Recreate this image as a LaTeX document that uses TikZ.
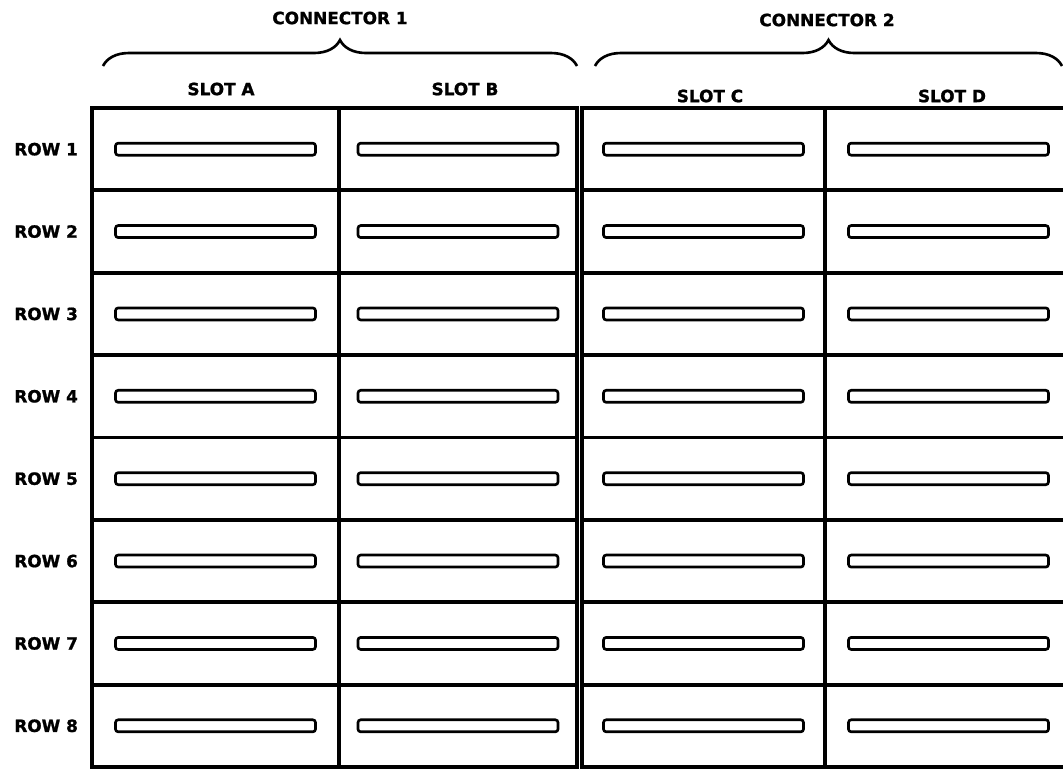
\documentclass[tikz,border=0pt]{standalone}
\usepackage{fontspec}
\setmainfont{DejaVu Sans}[BoldFeatures={FakeBold=1.2}]
\usetikzlibrary{positioning}
\usetikzlibrary{decorations.pathreplacing}
\tikzset{
  celda/.style={
    rectangle, draw=black, line width=2.2pt, inner sep=0pt,
    minimum height=1.6475cm
  },
  ranura/.style={
    rectangle, rounded corners=1.5pt, draw=black, line width=1.5pt,
    minimum width=4.0cm, minimum height=0.24cm, inner sep=0pt
  },
  etiqueta/.style={font=\bfseries\fontsize{9.6}{11}\selectfont, inner sep=1pt},
  llave/.style={decorate, decoration={brace, amplitude=0.52cm}, line width=1.5pt}
}

\begin{document}
\begin{tikzpicture}[x=0.02cm, y=-0.02cm]
  \useasboundingbox (0,0) rectangle (1063,769);

  \foreach \r in {1,...,8} {
    \node[celda, minimum width=4.94cm] (a\r) at (215.5, 66.8+82.375*\r) {};
    \node[celda, minimum width=4.76cm] (b\r) at (458, 66.8+82.375*\r) {};
    \node[celda, minimum width=4.86cm] (c\r) at (703.5, 66.8+82.375*\r) {};
    \node[celda, minimum width=4.94cm] (d\r) at (948.5, 66.8+82.375*\r) {};
    \node[ranura] (ra\r) at (a\r) {};
    \node[ranura] (rb\r) at (b\r) {};
    \node[ranura] (rc\r) at (c\r) {};
    \node[ranura] (rd\r) at (d\r) {};
    \node[etiqueta, anchor=east] (fila\r) at (80, 66.8+82.375*\r) {ROW \r};
  }

  \node[etiqueta] (slotA) at (221, 89) {SLOT A};
  \node[etiqueta] (slotB) at (465, 89) {SLOT B};
  \node[etiqueta] (slotC) at (710, 96) {SLOT C};
  \node[etiqueta] (slotD) at (952, 96) {SLOT D};

  \coordinate (c1izq) at (103, 66);
  \coordinate (c1der) at (577, 66);
  \coordinate (c2izq) at (595, 66);
  \coordinate (c2der) at (1062, 66);
  \draw[llave] (c1izq) -- (c1der);
  \draw[llave] (c2izq) -- (c2der);

  \node[etiqueta] (con1) at (340, 18) {CONNECTOR 1};
  \node[etiqueta] (con2) at (827, 20) {CONNECTOR 2};
\end{tikzpicture}
\end{document}
